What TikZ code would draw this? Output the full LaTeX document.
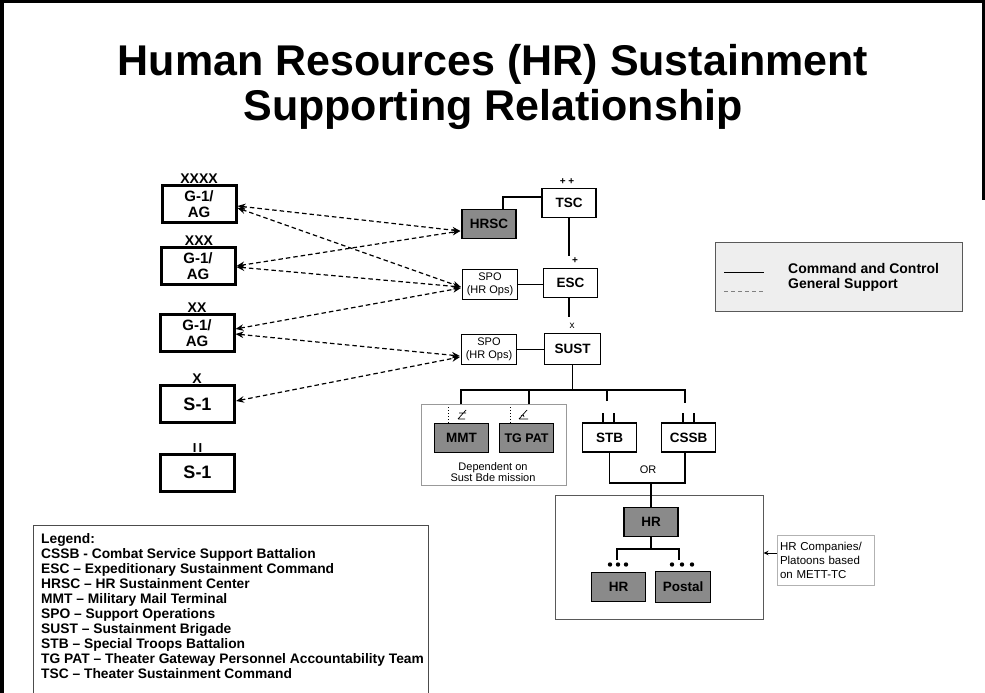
\documentclass[tikz,border=0pt]{standalone}
\usepackage{fontspec}
\setmainfont{Liberation Sans}
\usetikzlibrary{arrows.meta,calc}
\definecolor{boxgray}{RGB}{138,138,138}
\definecolor{lgbg}{RGB}{238,238,238}
\begin{document}
\begin{tikzpicture}[x=1pt,y=-1pt,
  ech/.style={draw,line width=3pt,minimum width=74pt,minimum height=37pt,inner sep=0pt,align=center,font=\bfseries\fontsize{15}{16}\selectfont},
  echS/.style={ech,font=\bfseries\fontsize{18}{18}\selectfont},
  echlab/.style={anchor=base,inner sep=0pt,font=\bfseries\fontsize{14}{14}\selectfont},
  unitbox/.style={draw,line width=1.3pt,inner sep=0pt,minimum width=54pt,minimum height=29pt,font=\bfseries\fontsize{13.5}{14}\selectfont},
  graybox/.style={unitbox,fill=boxgray},
  spobox/.style={draw,line width=1.2pt,inner sep=0pt,minimum width=55pt,minimum height=30pt,align=center,font=\fontsize{11}{13}\selectfont},
  cc/.style={line width=1.3pt},
  gs/.style={line width=1.2pt,dash pattern=on 4.5pt off 3pt,{Stealth[length=8pt,width=6.5pt]}-{Stealth[length=8pt,width=6.5pt]}},
  smalltxt/.style={inner sep=0pt,font=\fontsize{11}{11}\selectfont,align=center}
]
\useasboundingbox (0,0) rectangle (985,693);
% frame
\draw[line width=3.5pt] (1.75,693) -- (1.75,1.75) -- (985,1.75);
\draw[line width=3pt] (983.5,0) -- (983.5,200);
% title
\node[anchor=base,inner sep=0pt,font=\bfseries\fontsize{43}{45}\selectfont] (t1) at (493,76) {Human Resources (HR) Sustainment};
\node[anchor=base,inner sep=0pt,font=\bfseries\fontsize{43}{45}\selectfont] (t2) at (493,120) {Supporting Relationship};

% left echelon boxes
\node[ech] (g4) at (199,204) {G-1/\\AG};
\node[ech] (g3) at (198,266) {G-1/\\AG};
\node[ech] (g2) at (197,333) {G-1/\\AG};
\node[echS] (s1a) at (197.5,404) {S-1};
\node[echS] (s1b) at (197.5,472.5) {S-1};
\node[echlab] (l4) at (199,183.5) {XXXX};
\node[echlab] (l3) at (199,245.5) {XXX};
\node[echlab] (l2) at (197,312.5) {XX};
\node[echlab] (l1) at (197,383.5) {X};
\node[echlab,font=\bfseries\fontsize{13}{13}\selectfont] (l0) at (197.5,452) {I\,I};

% center column
\node[unitbox] (tsc) at (569,203) {TSC};
\node[graybox] (hrsc) at (489,224) {HRSC};
\node[unitbox] (esc) at (570.5,283) {ESC};
\node[spobox] (spo1) at (490,284.5) {SPO\\(HR Ops)};
\node[spobox] (spo2) at (489,349.5) {SPO\\(HR Ops)};
\node[unitbox,minimum width=56pt,minimum height=31pt] (sust) at (572.5,349) {SUST};
\node[inner sep=0pt,font=\bfseries\fontsize{10}{10}\selectfont] (pp) at (567,182) {+ +};
\node[inner sep=0pt,font=\bfseries\fontsize{10}{10}\selectfont] (p1) at (575,261) {+};
\node[inner sep=0pt,font=\fontsize{10}{10}\selectfont] (x1) at (572,326) {x};

\coordinate (tscend) at (569,256);
\coordinate (escend) at (569,317);
\draw[cc] ($(hrsc.north)+(14,0)$) |- ($(tsc.west)+(0,-6)$);
\draw[cc] (tsc.south) -- (tscend);
\draw[cc] (spo1.east) -- (spo1.east -| esc.west);
\draw[cc] (esc.south -| escend) -- (escend);
\draw[cc] (spo2.east) -- (spo2.east -| sust.west);

% dashed general support
\draw[gs] ($(g4.east)+(0,2)$) -- ($(hrsc.west)+(-1,7)$);
\draw[gs] ($(g4.east)+(0,4)$) -- ($(spo1.west)+(-1,2.5)$);
\draw[gs] ($(g3.east)+(0,0)$) -- ($(hrsc.west)+(-1,7)$);
\draw[gs] ($(g3.east)+(0,1)$) -- ($(spo1.west)+(-1,2.5)$);
\draw[gs] ($(g2.east)+(0,-4)$) -- ($(spo1.west)+(-1,3.5)$);
\draw[gs] ($(g2.east)+(0,1)$) -- ($(spo2.west)+(-1,6.5)$);
\draw[gs] ($(s1a.east)+(0,-3)$) -- ($(spo2.west)+(-1,7.5)$);

% bus below SUST
\coordinate (busj) at (571,390);
\node[draw=gray!80,line width=1pt,inner sep=0pt,minimum width=145pt,minimum height=81pt] (dep) at (493.5,444.5) {};
\coordinate (d1) at (461,404);
\coordinate (d2) at (529,404);
\coordinate (d3) at (607,401);
\coordinate (d4) at (685,403);
\draw[cc] (sust.south |- busj) -- (sust.south);
\draw[cc] (d1) -- (d1 |- busj) -- (d4 |- busj) -- (d4);
\draw[cc] (d2) -- (d2 |- busj);
\draw[cc] (d3) -- (d3 |- busj);

\node[graybox] (mmt) at (461.5,438) {MMT};
\node[graybox,font=\bfseries\fontsize{12.5}{13}\selectfont] (tgpat) at (526.5,438) {TG PAT};
\node[smalltxt] (deptxt) at (493,472.5) {Dependent on\\Sust Bde mission};
\draw[line width=1pt,dotted] (448,407) -- (mmt.north -| 448,0);
\draw[line width=1pt,dotted] (510,407) -- (tgpat.north -| 510,0);
\draw[line width=0.7pt] (458,419) -- (466,410) (459,413) -- (466,413) (458,419) -- (465,419);
\draw[line width=0.7pt] (519,419) -- (527,410) (519,419) -- (528,419) (521,416) .. controls (523,414) .. (524,417);

\node[unitbox] (stb) at (609.5,437.5) {STB};
\node[unitbox] (cssb) at (688.5,437.5) {CSSB};
\draw[cc] (603,413) -- (603,0 |- stb.north) (614,413) -- (614,0 |- stb.north);
\draw[cc] (683,413) -- (683,0 |- cssb.north) (694,413) -- (694,0 |- cssb.north);
\coordinate (orj) at (651,483);
\coordinate (cssbx) at ($(cssb.south)+(-3.5,0)$);
\draw[cc] (stb.south) -- (stb.south |- orj) -- (cssbx |- orj) -- (cssbx);
\node[smalltxt] (ortxt) at (648,470) {OR};

% HR companies container
\node[draw=gray!70!black,line width=1pt,inner sep=0pt,minimum width=208pt,minimum height=124pt] (cont) at (659,557) {};
\node[graybox] (hrtop) at (651,522) {HR};
\draw[cc] (orj) -- (hrtop.north);
\coordinate (hrj) at (651,549);
\coordinate (hrL) at (617,560);
\coordinate (hrR) at (679,560);
\draw[cc] (hrtop.south) -- (hrj);
\draw[cc] (hrL) -- (hrL |- hrj) -- (hrR |- hrj) -- (hrR);
\foreach \dx in {610,618,626,672,682,692} \fill (\dx,564.5) circle (2.2pt);
\node[graybox] (hrb) at (618.5,587) {HR};
\node[graybox,minimum width=55pt,minimum height=31pt] (postal) at (683,587) {Postal};

\node[draw=gray!60,line width=0.8pt,inner sep=3pt,minimum width=97pt,minimum height=50pt,text width=91pt,align=left,font=\fontsize{11.5}{14}\selectfont] (note) at (825.5,560) {HR Companies/\\Platoons based\\on METT-TC};
\draw[line width=1pt,-{Stealth[length=5pt,width=4.5pt]}] ($(note.west)+(0,-7)$) -- ($(note.west -| cont.east)+(0,-7)$);

% right legend
\node[draw=gray!70!black,fill=lgbg,line width=1pt,inner sep=0pt,minimum width=247pt,minimum height=69pt] (lg) at (838.5,276.5) {};
\coordinate (ccA) at (724,272); \coordinate (ccB) at (764,272);
\coordinate (gsA) at (724,291); \coordinate (gsB) at (764,291);
\draw[line width=1pt] (ccA) -- (ccB);
\draw[line width=1pt,gray,dash pattern=on 4pt off 3pt] (gsA) -- (gsB);
\node[anchor=west,inner sep=0pt,font=\bfseries\fontsize{14}{14}\selectfont] (cctxt) at (788,268) {Command and Control};
\node[anchor=west,inner sep=0pt,font=\bfseries\fontsize{14}{14}\selectfont] (gstxt) at (788,285) {General Support};

% bottom legend
\draw[gray!60!black,line width=1pt] (33,700) -- (33,525) -- (428,525) -- (428,700);
\node[anchor=north west,inner sep=0pt,align=left,font=\bfseries\fontsize{13.8}{15}\selectfont] (legend) at (41,533) {Legend:\\CSSB - Combat Service Support Battalion\\ESC -- Expeditionary Sustainment Command\\HRSC -- HR Sustainment Center\\MMT -- Military Mail Terminal\\SPO -- Support Operations\\SUST -- Sustainment Brigade\\STB -- Special Troops Battalion\\TG PAT -- Theater Gateway Personnel Accountability Team\\TSC -- Theater Sustainment Command};
\end{tikzpicture}
\end{document}
